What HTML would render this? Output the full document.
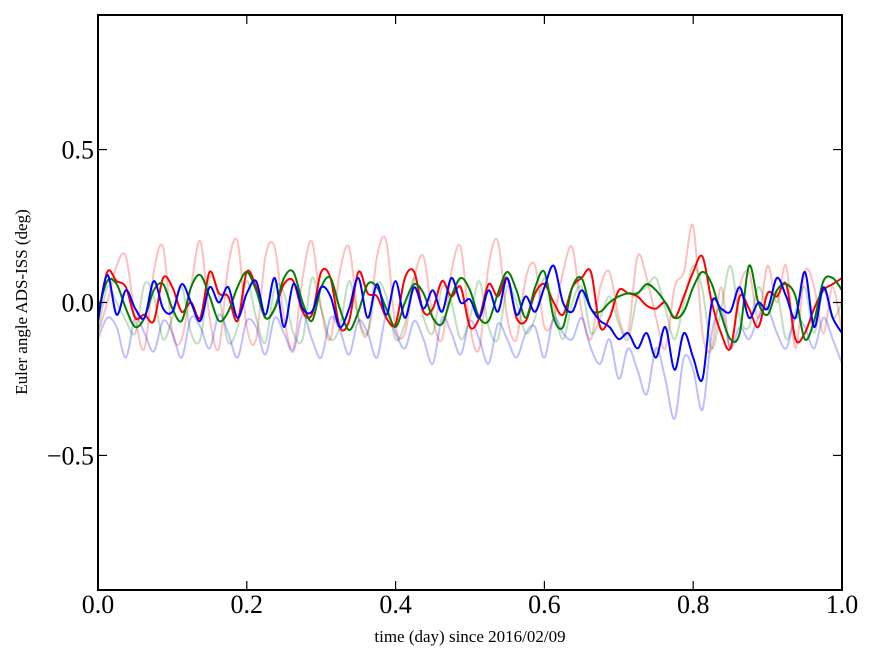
<!DOCTYPE html>
<html><head><meta charset="utf-8"><style>
body{margin:0;background:#fff}
svg text{font-family:"Liberation Serif",serif}
</style></head><body>
<svg id="chart" width="875" height="662" xmlns="http://www.w3.org/2000/svg">
<rect width="875" height="662" fill="#fff"/>
<g id="series"></g>
<rect x="98" y="15" width="744" height="575" fill="none" stroke="#000" stroke-width="2"/>
<g id="ticks"></g>
<text x="470" y="642" font-size="17" text-anchor="middle">time (day) since 2016/02/09</text>
<text transform="translate(27,302) rotate(-90)" font-size="17" text-anchor="middle">Euler angle ADS-ISS (deg)</text>
</svg>
<script>
const xTicks=[0,0.2,0.4,0.6,0.8,1.0];
const xTickLabels=["0.0","0.2","0.4","0.6","0.8","1.0"];
const yTicks=[-0.5,0,0.5];
const yTickLabels=["\u22120.5","0.0","0.5"];
const redMain=[-0.05,0.1,0.07,0.05,-0.05,-0.04,-0.06,0.08,0.05,-0.03,0.0,-0.05,0.1,0.03,0.02,-0.06,0.1,0.05,-0.05,-0.02,0.06,0.07,-0.03,-0.04,0.1,0.08,-0.08,-0.06,0.1,0.03,0.02,-0.05,-0.07,0.08,0.1,-0.03,-0.02,0.07,0.02,0.05,-0.08,-0.05,0.06,0.02,0.08,-0.05,-0.06,0.03,0.06,0.0,-0.04,0.05,0.08,0.1,-0.08,-0.05,0.04,0.03,0.02,-0.01,-0.02,0.0,-0.05,0.02,0.1,0.15,0.0,-0.1,-0.15,0.02,-0.02,-0.08,0.03,0.02,0.06,-0.12,-0.1,-0.02,0.04,0.06,0.08];
const greenMain=[-0.03,0.07,0.06,-0.02,-0.08,-0.05,0.04,0.06,-0.02,-0.06,0.05,0.09,0.02,-0.06,-0.03,0.05,0.1,0.04,-0.05,-0.02,0.08,0.1,0.0,-0.06,0.05,0.08,-0.02,-0.09,-0.03,0.06,0.05,-0.02,-0.08,0.0,0.06,0.03,-0.05,-0.07,0.02,0.08,0.04,-0.05,-0.06,0.03,0.1,0.04,-0.05,0.05,0.1,-0.05,-0.08,0.05,0.08,-0.02,-0.03,0.0,0.02,0.03,0.03,0.06,0.04,0.0,-0.05,-0.03,0.05,0.1,0.06,-0.04,-0.12,-0.1,0.12,0.0,-0.04,0.04,0.06,0.02,-0.12,-0.06,0.07,0.08,0.04];
const blueMain=[-0.06,0.09,-0.04,0.04,-0.02,-0.05,0.07,-0.02,-0.03,0.06,0.0,-0.06,0.05,0.0,0.05,-0.05,0.03,0.07,-0.04,0.08,-0.08,0.06,-0.02,-0.03,0.05,0.02,-0.08,-0.02,0.08,-0.05,0.06,-0.04,0.07,-0.05,0.05,-0.02,0.04,-0.03,0.08,0.0,0.01,-0.05,0.04,-0.03,0.08,-0.04,0.02,-0.03,0.05,0.12,0.0,-0.03,0.04,-0.02,-0.06,-0.08,-0.12,-0.1,-0.15,-0.1,-0.18,-0.08,-0.22,-0.1,-0.18,-0.25,0.0,-0.02,-0.03,0.05,-0.05,0.0,-0.02,0.08,0.02,-0.05,0.1,-0.08,0.05,-0.05,-0.1];
const redFaint=[-0.1,0.0,0.12,0.15,-0.05,-0.15,0.1,0.18,-0.1,-0.12,0.05,0.2,-0.05,-0.15,0.12,0.2,-0.08,-0.12,0.15,0.18,-0.05,-0.15,0.08,0.2,-0.02,-0.12,0.1,0.18,-0.05,-0.1,0.15,0.2,-0.08,-0.1,0.08,0.15,-0.05,-0.12,0.1,0.18,-0.08,-0.15,0.12,0.2,-0.05,-0.12,0.08,0.12,-0.08,-0.05,0.1,0.18,-0.03,-0.12,0.05,0.1,-0.05,-0.1,0.15,0.08,-0.05,-0.15,0.05,0.1,0.25,-0.1,-0.15,0.05,-0.15,0.05,0.1,-0.05,0.12,0.0,0.12,-0.15,0.1,0.05,-0.1,0.05,-0.1];
const greenFaint=[-0.1,0.05,0.0,-0.06,-0.1,0.06,0.02,-0.12,-0.05,0.05,-0.1,-0.12,0.08,0.02,-0.13,-0.08,0.07,-0.05,-0.13,0.05,0.03,-0.1,-0.12,0.08,-0.02,-0.12,-0.08,0.07,-0.05,-0.1,0.06,0.02,-0.12,-0.07,0.08,-0.05,-0.1,0.05,0.0,-0.12,-0.05,0.07,-0.08,-0.12,0.05,0.0,-0.1,-0.05,0.08,-0.02,-0.12,0.0,0.05,-0.1,-0.05,0.02,-0.07,-0.12,0.02,0.05,0.08,-0.02,-0.12,0.0,0.12,0.04,-0.15,-0.02,0.12,-0.05,-0.08,0.05,-0.02,0.03,-0.12,-0.03,0.05,-0.1,0.04,-0.05,0.0];
const blueFaint=[-0.12,-0.05,-0.08,-0.18,-0.05,-0.1,-0.16,-0.06,-0.1,-0.18,-0.05,-0.08,-0.15,-0.04,-0.1,-0.18,-0.06,-0.08,-0.17,-0.05,-0.1,-0.16,-0.04,-0.12,-0.18,-0.05,-0.09,-0.17,-0.06,-0.1,-0.18,-0.04,-0.1,-0.15,-0.06,-0.12,-0.2,-0.05,-0.1,-0.17,-0.06,-0.12,-0.2,-0.07,-0.12,-0.18,-0.1,-0.08,-0.18,-0.05,-0.1,-0.12,-0.05,-0.15,-0.2,-0.12,-0.25,-0.15,-0.22,-0.3,-0.15,-0.25,-0.38,-0.18,-0.22,-0.35,-0.1,-0.02,-0.15,-0.08,-0.12,-0.05,-0.02,-0.1,-0.15,-0.05,-0.08,-0.15,-0.05,-0.12,-0.2];
const X0=98,X1=842,Y0=15,Y1=590,YMIN=-0.94,YMAX=0.94;
function xs(v){return X0+(v)*(X1-X0);}
function ys(v){return Y1-(v-YMIN)/(YMAX-YMIN)*(Y1-Y0);}
const NS="http://www.w3.org/2000/svg";
const g=document.getElementById('series');
function pathFor(arr){
  const n=arr.length;const p=arr.map((v,i)=>[xs(i/(n-1)),ys(v)]);
  let d="M"+p[0][0].toFixed(1)+","+p[0][1].toFixed(1);
  for(let i=0;i<n-1;i++){const a=p[Math.max(0,i-1)],b=p[i],c=p[i+1],e=p[Math.min(n-1,i+2)];
    const c1=[b[0]+(c[0]-a[0])/6,b[1]+(c[1]-a[1])/6],c2=[c[0]-(e[0]-b[0])/6,c[1]-(e[1]-b[1])/6];
    d+="C"+c1[0].toFixed(1)+","+c1[1].toFixed(1)+" "+c2[0].toFixed(1)+","+c2[1].toFixed(1)+" "+c[0].toFixed(1)+","+c[1].toFixed(1);}
  return d;}
function draw(arr,color,op,name){const el=document.createElementNS(NS,'path');
  el.setAttribute('d',pathFor(arr));el.setAttribute('fill','none');el.setAttribute('stroke',color);
  el.setAttribute('stroke-width','2');el.setAttribute('stroke-opacity',op);
  
  
  g.appendChild(el);}
draw(redFaint,'#ff0000',0.25,'red-faint-line');
draw(greenFaint,'#008000',0.25,'green-faint-line');
draw(blueFaint,'#0000ff',0.25,'blue-faint-line');
draw(redMain,'#ff0000',1,'red-line');
draw(greenMain,'#008000',1,'green-line');
draw(blueMain,'#0000ff',1,'blue-line');
const t=document.getElementById('ticks');
function line(x1,y1,x2,y2){const l=document.createElementNS(NS,'line');l.setAttribute('x1',x1);l.setAttribute('y1',y1);l.setAttribute('x2',x2);l.setAttribute('y2',y2);l.setAttribute('stroke','#000');l.setAttribute('stroke-width','1.2');
  
  
  t.appendChild(l);}
function txt(x,y,s,anchor,name){const e=document.createElementNS(NS,'text');e.setAttribute('x',x);e.setAttribute('y',y);e.setAttribute('font-size','26');e.setAttribute('text-anchor',anchor);e.textContent=s;
  
  
  t.appendChild(e);}
xTicks.forEach((v,i)=>{const x=xs(v);line(x,Y1,x,Y1-9);line(x,Y0,x,Y0+9);txt(x,613,xTickLabels[i],'middle','x-tick-label');});
yTicks.forEach((v,i)=>{const y=ys(v);line(X0,y,X0+9,y);line(X1,y,X1-9,y);txt(94,y+9,yTickLabels[i],'end','y-tick-label');});
</script>
</body></html>
